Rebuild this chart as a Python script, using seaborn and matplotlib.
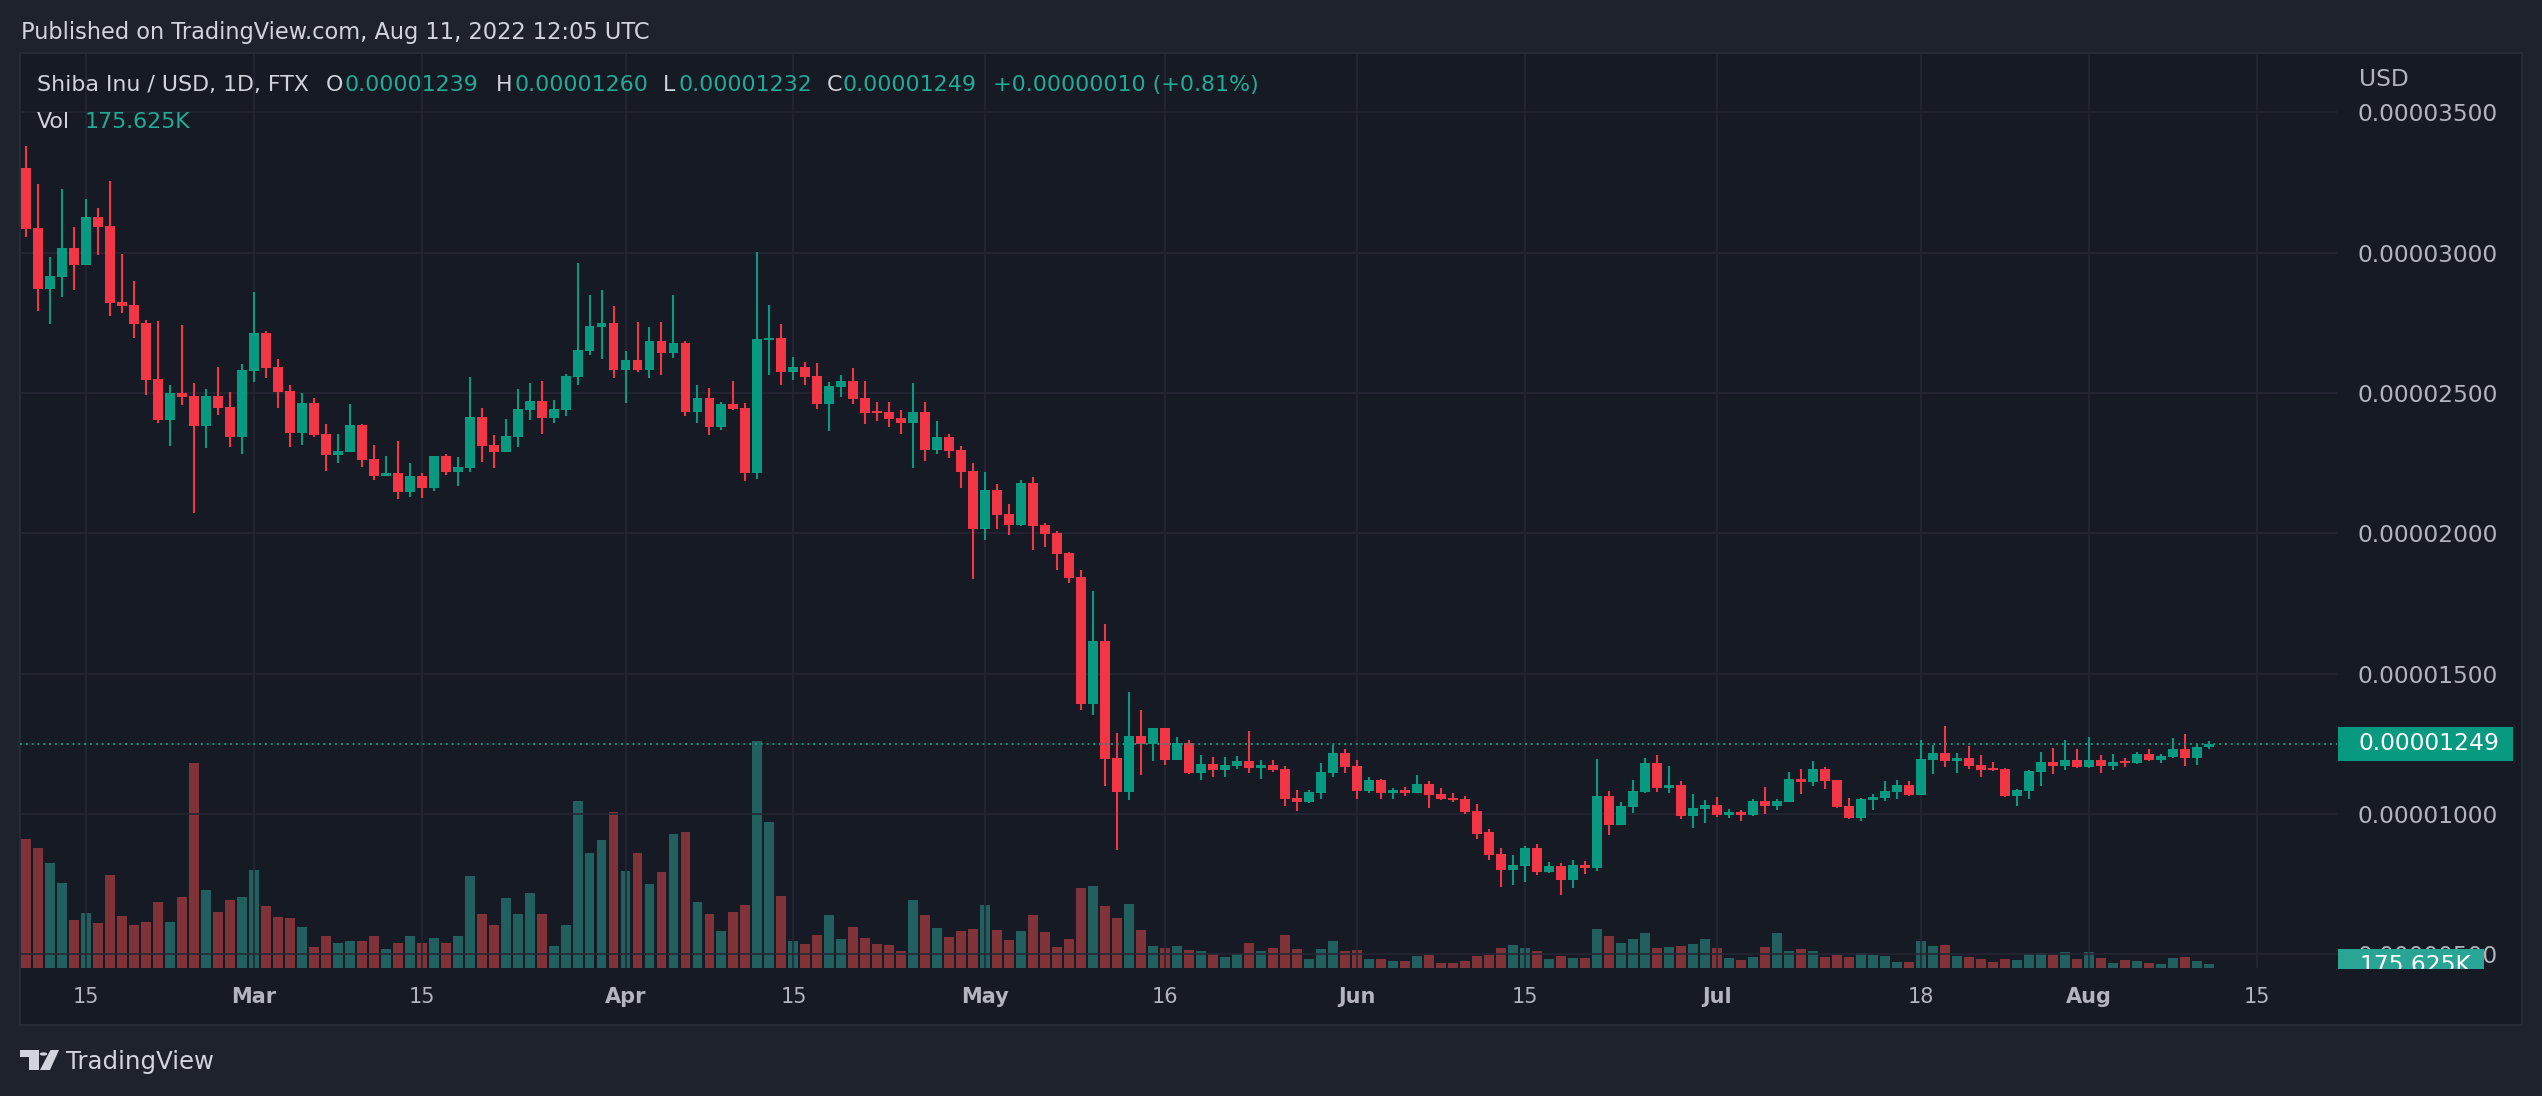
import numpy as np
import pandas as pd
import matplotlib
matplotlib.use("Agg")
import matplotlib.pyplot as plt
import matplotlib.dates as mdates
from matplotlib.patches import Rectangle, Polygon, Circle
import seaborn as sns

# ---------------- data (prices in units of 1e-5 USD, volume in millions) ----------------
dates = pd.date_range("2022-02-10", "2022-08-11", freq="D")

open_ = [3.301, 3.088, 2.872, 2.915, 3.017, 2.958, 3.128, 3.096, 2.825, 2.814,
         2.750, 2.550, 2.405, 2.500, 2.490, 2.384, 2.490, 2.450, 2.345, 2.580,
         2.714, 2.593, 2.507, 2.359, 2.465, 2.355, 2.281, 2.291, 2.386, 2.265,
         2.206, 2.216, 2.149, 2.206, 2.163, 2.276, 2.220, 2.234, 2.415, 2.315,
         2.291, 2.345, 2.441, 2.472, 2.412, 2.441, 2.559, 2.651, 2.736, 2.750,
         2.584, 2.618, 2.584, 2.686, 2.644, 2.679, 2.434, 2.483, 2.380, 2.461,
         2.447, 2.216, 2.689, 2.696, 2.576, 2.593, 2.561, 2.462, 2.523, 2.543,
         2.483, 2.436, 2.433, 2.411, 2.395, 2.433, 2.298, 2.344, 2.298, 2.222,
         2.017, 2.155, 2.069, 2.031, 2.180, 2.030, 2.001, 1.930, 1.845, 1.393,
         1.617, 1.200, 1.080, 1.278, 1.251, 1.307, 1.194, 1.253, 1.147, 1.178,
         1.158, 1.172, 1.189, 1.165, 1.175, 1.160, 1.058, 1.044, 1.076, 1.147,
         1.219, 1.172, 1.083, 1.122, 1.076, 1.087, 1.076, 1.105, 1.072, 1.058,
         1.055, 1.012, 0.934, 0.857, 0.800, 0.815, 0.879, 0.793, 0.815, 0.765,
         0.818, 0.808, 1.064, 0.961, 1.025, 1.078, 1.182, 1.093, 1.103, 0.994,
         1.018, 1.032, 0.998, 1.007, 0.998, 1.046, 1.030, 1.044, 1.125, 1.115,
         1.160, 1.121, 1.029, 0.986, 1.050, 1.057, 1.078, 1.103, 1.068, 1.192,
         1.217, 1.189, 1.200, 1.175, 1.164, 1.160, 1.064, 1.082, 1.150, 1.185,
         1.171, 1.192, 1.167, 1.192, 1.171, 1.189, 1.182, 1.214, 1.192, 1.203,
         1.232, 1.200, 1.239]

high = [3.381, 3.245, 2.985, 3.227, 3.092, 3.192, 3.160, 3.256, 2.996, 2.900,
        2.760, 2.757, 2.529, 2.743, 2.536, 2.515, 2.593, 2.504, 2.604, 2.860,
        2.721, 2.621, 2.529, 2.500, 2.482, 2.390, 2.355, 2.461, 2.391, 2.315,
        2.276, 2.329, 2.251, 2.216, 2.276, 2.284, 2.272, 2.557, 2.447, 2.351,
        2.408, 2.515, 2.536, 2.543, 2.475, 2.568, 2.964, 2.850, 2.867, 2.810,
        2.650, 2.753, 2.736, 2.753, 2.850, 2.686, 2.529, 2.518, 2.468, 2.543,
        2.465, 3.003, 2.814, 2.746, 2.629, 2.611, 2.607, 2.540, 2.565, 2.590,
        2.543, 2.468, 2.468, 2.440, 2.536, 2.468, 2.401, 2.354, 2.312, 2.251,
        2.219, 2.176, 2.105, 2.190, 2.201, 2.037, 2.009, 1.934, 1.870, 1.795,
        1.677, 1.289, 1.435, 1.371, 1.307, 1.307, 1.274, 1.264, 1.210, 1.203,
        1.203, 1.207, 1.296, 1.192, 1.192, 1.171, 1.087, 1.087, 1.183, 1.247,
        1.233, 1.194, 1.130, 1.126, 1.094, 1.097, 1.140, 1.119, 1.094, 1.076,
        1.065, 1.037, 0.948, 0.879, 0.854, 0.886, 0.893, 0.829, 0.825, 0.836,
        0.832, 1.196, 1.082, 1.043, 1.121, 1.200, 1.210, 1.171, 1.118, 1.071,
        1.050, 1.061, 1.018, 1.014, 1.053, 1.096, 1.053, 1.150, 1.160, 1.189,
        1.167, 1.121, 1.057, 1.057, 1.071, 1.118, 1.121, 1.118, 1.264, 1.246,
        1.314, 1.217, 1.242, 1.210, 1.185, 1.164, 1.089, 1.157, 1.221, 1.235,
        1.264, 1.232, 1.274, 1.210, 1.214, 1.200, 1.221, 1.232, 1.214, 1.271,
        1.285, 1.249, 1.260]

low = [3.058, 2.794, 2.747, 2.844, 2.869, 2.955, 2.993, 2.776, 2.787, 2.698,
       2.494, 2.395, 2.313, 2.459, 2.074, 2.305, 2.423, 2.309, 2.284, 2.541,
       2.555, 2.448, 2.309, 2.316, 2.345, 2.224, 2.252, 2.289, 2.238, 2.191,
       2.204, 2.124, 2.131, 2.127, 2.152, 2.209, 2.170, 2.220, 2.256, 2.234,
       2.289, 2.309, 2.405, 2.355, 2.395, 2.420, 2.530, 2.637, 2.623, 2.555,
       2.466, 2.576, 2.555, 2.566, 2.626, 2.420, 2.395, 2.352, 2.370, 2.441,
       2.188, 2.195, 2.566, 2.530, 2.548, 2.530, 2.445, 2.366, 2.487, 2.462,
       2.391, 2.402, 2.380, 2.355, 2.234, 2.259, 2.284, 2.270, 2.163, 1.839,
       1.978, 2.017, 1.995, 2.027, 1.942, 1.953, 1.871, 1.824, 1.372, 1.354,
       1.101, 0.873, 1.048, 1.140, 1.190, 1.176, 1.194, 1.144, 1.122, 1.130,
       1.133, 1.162, 1.147, 1.126, 1.151, 1.030, 1.012, 1.040, 1.055, 1.130,
       1.147, 1.055, 1.073, 1.055, 1.055, 1.065, 1.076, 1.023, 1.051, 1.044,
       1.001, 0.912, 0.837, 0.740, 0.747, 0.758, 0.783, 0.790, 0.711, 0.736,
       0.786, 0.797, 0.925, 0.960, 1.005, 1.073, 1.078, 1.075, 0.983, 0.951,
       0.966, 0.990, 0.987, 0.976, 0.994, 1.001, 1.015, 1.044, 1.072, 1.100,
       1.089, 1.021, 0.983, 0.976, 1.014, 1.046, 1.053, 1.064, 1.066, 1.143,
       1.167, 1.146, 1.160, 1.132, 1.153, 1.062, 1.029, 1.053, 1.100, 1.143,
       1.157, 1.165, 1.165, 1.146, 1.157, 1.167, 1.178, 1.190, 1.182, 1.201,
       1.171, 1.175, 1.232]

close = [3.086, 2.872, 2.917, 3.017, 2.958, 3.128, 3.092, 2.822, 2.812, 2.747,
         2.548, 2.405, 2.500, 2.487, 2.384, 2.490, 2.448, 2.345, 2.582, 2.714,
         2.591, 2.505, 2.359, 2.465, 2.352, 2.281, 2.295, 2.386, 2.263, 2.206,
         2.216, 2.149, 2.206, 2.163, 2.276, 2.220, 2.237, 2.415, 2.313, 2.291,
         2.347, 2.443, 2.472, 2.412, 2.443, 2.561, 2.654, 2.739, 2.750, 2.584,
         2.618, 2.584, 2.686, 2.644, 2.679, 2.434, 2.483, 2.380, 2.461, 2.445,
         2.216, 2.693, 2.696, 2.576, 2.593, 2.559, 2.462, 2.525, 2.543, 2.480,
         2.430, 2.428, 2.409, 2.395, 2.433, 2.298, 2.344, 2.295, 2.220, 2.017,
         2.155, 2.067, 2.031, 2.180, 2.027, 1.999, 1.928, 1.842, 1.393, 1.617,
         1.197, 1.080, 1.278, 1.251, 1.307, 1.194, 1.253, 1.147, 1.178, 1.158,
         1.175, 1.189, 1.165, 1.175, 1.158, 1.055, 1.044, 1.080, 1.151, 1.219,
         1.169, 1.083, 1.122, 1.076, 1.087, 1.076, 1.105, 1.069, 1.055, 1.051,
         1.008, 0.930, 0.855, 0.800, 0.818, 0.879, 0.793, 0.815, 0.765, 0.818,
         0.808, 1.064, 0.961, 1.029, 1.082, 1.182, 1.093, 1.103, 0.994, 1.021,
         1.032, 0.998, 1.007, 0.998, 1.046, 1.030, 1.046, 1.125, 1.115, 1.160,
         1.118, 1.025, 0.986, 1.053, 1.061, 1.082, 1.103, 1.068, 1.196, 1.217,
         1.189, 1.200, 1.171, 1.157, 1.157, 1.064, 1.085, 1.153, 1.185, 1.171,
         1.192, 1.167, 1.192, 1.171, 1.185, 1.182, 1.214, 1.192, 1.207, 1.232,
         1.200, 1.239, 1.249]

volume_m = [6.47, 6.02, 5.27, 4.27, 2.42, 2.77, 2.27, 4.67, 2.62, 2.17,
            2.32, 3.32, 2.32, 3.57, 10.27, 3.92, 2.82, 3.42, 3.57, 4.92,
            3.12, 2.57, 2.52, 2.07, 1.07, 1.62, 1.27, 1.37, 1.37, 1.62,
            0.97, 1.27, 1.62, 1.27, 1.52, 1.27, 1.62, 4.62, 2.72, 2.17,
            3.52, 2.72, 3.77, 2.72, 1.12, 2.17, 8.37, 5.77, 6.42, 7.82,
            4.87, 5.77, 4.22, 4.82, 6.72, 6.82, 3.32, 2.72, 1.87, 2.82,
            3.17, 11.37, 7.32, 3.62, 1.37, 1.18, 1.63, 2.63, 1.43, 2.03,
            1.48, 1.18, 1.13, 0.83, 3.43, 2.63, 1.98, 1.53, 1.83, 1.93,
            3.13, 1.88, 1.38, 1.83, 2.63, 1.78, 1.03, 1.43, 4.03, 4.13,
            3.08, 2.48, 3.18, 1.88, 1.08, 0.98, 1.08, 0.88, 0.83, 0.68,
            0.53, 0.68, 1.23, 0.83, 0.98, 1.63, 0.93, 0.43, 0.93, 1.33,
            0.83, 0.88, 0.43, 0.43, 0.33, 0.33, 0.58, 0.63, 0.23, 0.23,
            0.33, 0.58, 0.63, 0.98, 1.13, 0.98, 0.83, 0.43, 0.58, 0.48,
            0.48, 1.93, 1.58, 1.23, 1.43, 1.73, 0.98, 1.03, 1.08, 1.18,
            1.43, 0.98, 0.48, 0.38, 0.53, 1.03, 1.73, 0.83, 0.93, 0.83,
            0.53, 0.63, 0.53, 0.73, 0.63, 0.58, 0.28, 0.28, 1.33, 1.08,
            1.13, 0.58, 0.53, 0.43, 0.28, 0.43, 0.38, 0.68, 0.73, 0.63,
            0.78, 0.43, 0.78, 0.48, 0.23, 0.38, 0.33, 0.23, 0.18, 0.48,
            0.53, 0.33, 0.176]

PRICE_UNIT = 1e-5
price_ticks = [0.5, 1.0, 1.5, 2.0, 2.5, 3.0, 3.5]
tick_dates = ["2022-02-15", "2022-03-01", "2022-03-15", "2022-04-01", "2022-04-15",
              "2022-05-01", "2022-05-16", "2022-06-01", "2022-06-15", "2022-07-01",
              "2022-07-18", "2022-08-01", "2022-08-15"]
tick_labels = ["15", "Mar", "15", "Apr", "15", "May", "16", "Jun", "15", "Jul",
               "18", "Aug", "15"]
month_labels = {"Mar", "Apr", "May", "Jun", "Jul", "Aug"}
last_price = 1.249
last_volume_label = "175.625K"
title = "Published on TradingView.com, Aug 11, 2022 12:05 UTC"
symbol = "Shiba Inu / USD, 1D, FTX"
ohlc_header = [("O", "0.00001239"), ("H", "0.00001260"), ("L", "0.00001232"), ("C", "0.00001249")]
change_txt = "+0.00000010 (+0.81%)"

# ---------------- style ----------------
W, H = 2542, 1096
OUTER = "#1e222d"
PANEL = "#161a25"
GRID = "#242733"
BORDER = "#2a2e39"
UP = "#089981"
DN = "#f23645"
VOL_UP = "#22605f"
VOL_DN = "#80343a"
TXT = "#d1d4dc"
AXTXT = "#b2b5be"
TEAL_TXT = "#22ab94"

sns.set_theme(style="dark")
plt.rcParams["font.family"] = ["DejaVu Sans"]

fig = plt.figure(figsize=(W / 100, H / 100), dpi=100, facecolor=OUTER)


def fx(x):
    return x / W


def fy(y):
    return 1 - y / H


# panel background
fig.add_artist(Rectangle((fx(20), fy(1025)), (2522 - 20) / W, (1025 - 53) / H,
                         transform=fig.transFigure, facecolor=PANEL,
                         edgecolor=BORDER, lw=1.2, zorder=0))

rect = [fx(20), fy(968), (2337 - 20) / W, (968 - 53) / H]
axv = fig.add_axes(rect)
ax = fig.add_axes(rect, sharex=axv)
axv.set_zorder(1)
ax.set_zorder(2)
axv.patch.set_visible(False)
ax.patch.set_visible(False)

xnum = mdates.date2num(dates)
o = np.array(open_) * PRICE_UNIT
h = np.array(high) * PRICE_UNIT
l = np.array(low) * PRICE_UNIT
c = np.array(close) * PRICE_UNIT
up = c >= o

# volume bars (seaborn)
vdf = pd.DataFrame({"x": xnum, "vol": volume_m, "dir": np.where(up, "up", "down")})
sns.barplot(data=vdf, x="x", y="vol", hue="dir", palette={"up": VOL_UP, "down": VOL_DN},
            native_scale=True, width=0.83, dodge=False, saturation=1, errorbar=None,
            legend=False, linewidth=0, ax=axv)
axv.set_ylim(0, max(volume_m) * 4.03)
axv.set_xlabel("")
axv.set_ylabel("")
axv.tick_params(left=False, labelleft=False, bottom=False, labelbottom=False)
axv.grid(False)
for s in axv.spines.values():
    s.set_visible(False)

# candles
colors = np.where(up, UP, DN)
ax.vlines(xnum, l, h, colors=colors, lw=1.5, zorder=3)
body_h = np.maximum(np.abs(c - o), 0.006 * PRICE_UNIT)
ax.bar(xnum, body_h, bottom=np.minimum(o, c), width=0.83, color=colors, lw=0, zorder=4)

# last price line
ax.axhline(last_price * PRICE_UNIT, color=UP, lw=1.4, ls=(0, (1, 2)), zorder=5)

# axes limits / ticks
ax.set_ylim(0.451 * PRICE_UNIT, 3.712 * PRICE_UNIT)
ax.set_xlim(xnum[0] - 0.475, mdates.date2num(pd.Timestamp("2022-08-15")) + 6.67)
ax.yaxis.tick_right()
ax.set_yticks([p * PRICE_UNIT for p in price_ticks])
ax.set_yticklabels([f"{p * PRICE_UNIT:.8f}" for p in price_ticks])
ax.set_xticks(mdates.date2num(pd.to_datetime(tick_dates)))
ax.set_xticklabels(tick_labels)
for t in ax.get_xticklabels():
    if t.get_text() in month_labels:
        t.set_fontweight("bold")
ax.tick_params(axis="y", length=0, pad=15, labelsize=16.8, labelcolor=AXTXT)
ax.tick_params(axis="x", length=0, pad=14, labelsize=15, labelcolor=AXTXT)
ax.tick_params(labelleft=False, labelright=True)
ax.grid(True, color=GRID, lw=1.2)
ax.set_axisbelow(True)
for s in ax.spines.values():
    s.set_visible(False)

renderer = fig.canvas.get_renderer()


def fit(t, target_w):
    w = t.get_window_extent(renderer).width
    t.set_fontsize(t.get_fontsize() * target_w / w)
    return t.get_fontsize()


# title
t = fig.text(fx(21), fy(33), title, color=TXT, fontsize=15, va="center", ha="left")
fit(t, 631)

# header legend
t = fig.text(fx(37), fy(85), symbol, color=TXT, fontsize=15, va="center", ha="left")
hfs = fit(t, 272)
letter_x = [326, 496, 663, 827]
value_x = [344, 514, 678, 843]
for (lab, val), lx, vx in zip(ohlc_header, letter_x, value_x):
    fig.text(fx(lx), fy(85), lab, color=TXT, fontsize=hfs, va="center", ha="left")
    fig.text(fx(vx), fy(85), val, color=TEAL_TXT, fontsize=hfs, va="center", ha="left")
fig.text(fx(993), fy(85), change_txt, color=TEAL_TXT, fontsize=hfs, va="center", ha="left")
fig.text(fx(37), fy(122), "Vol", color=TXT, fontsize=hfs, va="center", ha="left")
fig.text(fx(85), fy(122), last_volume_label, color=TEAL_TXT, fontsize=hfs, va="center", ha="left")

# price axis header
fig.text(fx(2359), fy(80), "USD", color=AXTXT, fontsize=16.8, va="center", ha="left")

# last price box
fig.add_artist(Rectangle((fx(2338), fy(761)), (2513 - 2338) / W, 34 / H,
                         transform=fig.transFigure, facecolor=UP, lw=0, zorder=10))
fig.text(fx(2359), fy(744), f"{last_price * PRICE_UNIT:.8f}", color="white",
         fontsize=16.8, va="center", ha="left", zorder=11)

# last volume box (clipped at pane bottom)
vbox = Rectangle((fx(2338), fy(969)), (2484 - 2338) / W, 20 / H,
                 transform=fig.transFigure, facecolor="#2aa495", lw=0, zorder=10)
fig.add_artist(vbox)
vt = fig.text(fx(2359), fy(966), last_volume_label, color="white", fontsize=16.8,
              va="center", ha="left", zorder=11)
vt.set_clip_path(vbox)

# TradingView logo
def P(x, y):
    return (fx(x), fy(y))


fig.add_artist(Polygon([P(19.5, 1050), P(38.5, 1050), P(38.5, 1070), P(28.5, 1070),
                        P(28.5, 1057), P(19.5, 1057)], closed=True,
                       transform=fig.transFigure, facecolor=TXT, lw=0, zorder=10))
fig.add_artist(Circle(P(43.5, 1054), 3.8 / W, transform=fig.transFigure,
                      facecolor=TXT, lw=0, zorder=10))
fig.add_artist(Polygon([P(40, 1070), P(50, 1070), P(59, 1050), P(50.5, 1050)], closed=True,
                       transform=fig.transFigure, facecolor=TXT, lw=0, zorder=10))
t = fig.text(fx(66), fy(1062), "TradingView", color=TXT, fontsize=18, va="center", ha="left")
fit(t, 148)

fig.savefig("out.png", dpi=100, facecolor=OUTER)
